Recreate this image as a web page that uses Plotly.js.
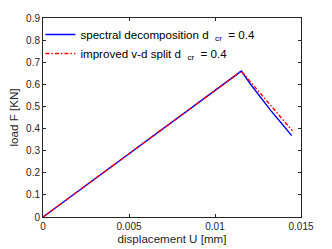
<!DOCTYPE html>
<html><head><meta charset="utf-8">
<script src="https://cdn.plot.ly/plotly-3.0.1.min.js"></script>
<style>html,body{margin:0;padding:0;background:#fff;}#chart{width:332px;height:249px;}</style>
</head><body><div id="chart"></div>
<script>
const blueX = [0, 0.01153, 0.0121, 0.01268, 0.01326, 0.01384, 0.01446];
const blueY = [0, 0.66, 0.597, 0.537, 0.480, 0.426, 0.368];
const redX = [0, 0.01153, 0.0121, 0.01268, 0.01326, 0.01384, 0.0145];
const redY = [0, 0.66, 0.608, 0.555, 0.503, 0.452, 0.39];
const xTicks = [0, 0.005, 0.01, 0.015];
const xTickText = ['0', '0.005', '0.01', '0.015'];
const yTicks = [0, 0.1, 0.2, 0.3, 0.4, 0.5, 0.6, 0.7, 0.8, 0.9];
const yTickText = ['0', '0.1', '0.2', '0.3', '0.4', '0.5', '0.6', '0.7', '0.8', '0.9'];
const names = ['spectral decomposition d&nbsp;&nbsp;<sub>cr</sub>&nbsp; = 0.4', 'improved v-d split d&nbsp;&nbsp;<sub>cr</sub>&nbsp; = 0.4'];

const tickFont = {family: 'Liberation Sans, Arial, sans-serif', size: 10, color: '#262626'};
const textFont = {family: 'Liberation Sans, Arial, sans-serif', size: 11.6, color: '#262626'};
const legendFont = {family: 'Liberation Sans, Arial, sans-serif', size: 11.6, color: '#000000'};
const traces = [
  {x: blueX, y: blueY, type: 'scatter', mode: 'lines', name: names[0], line: {color: '#0000ff', width: 1.4}},
  {x: redX, y: redY, type: 'scatter', mode: 'lines', name: names[1], line: {color: '#ff0000', width: 1.4, dash: '4px,2px,1.5px,2px'}}
];
const axisCommon = {showline: true, linecolor: '#262626', linewidth: 1, mirror: 'ticks', ticks: 'inside', ticklen: 3, tickcolor: '#262626', showgrid: false, zeroline: false, tickfont: tickFont};
const layout = {
  width: 332, height: 249,
  margin: {l: 43, r: 31, t: 18, b: 32},
  paper_bgcolor: '#fff', plot_bgcolor: '#fff',
  font: tickFont,
  showlegend: true,
  legend: {x: -0.01, y: 0.99, xanchor: 'left', yanchor: 'top', bgcolor: 'rgba(0,0,0,0)', borderwidth: 0, font: legendFont, tracegroupgap: 0, itemwidth: 30},
  xaxis: Object.assign({}, axisCommon, {range: [0, 0.015], tickvals: xTicks, ticktext: xTickText, title: {text: 'displacement U [mm]', font: textFont, standoff: 3}}),
  yaxis: Object.assign({}, axisCommon, {range: [0, 0.9], tickvals: yTicks, ticktext: yTickText, title: {text: 'load F [KN]', font: textFont, standoff: 5}})
};
Plotly.newPlot('chart', traces, layout, {staticPlot: true, displayModeBar: false});
</script></body></html>
